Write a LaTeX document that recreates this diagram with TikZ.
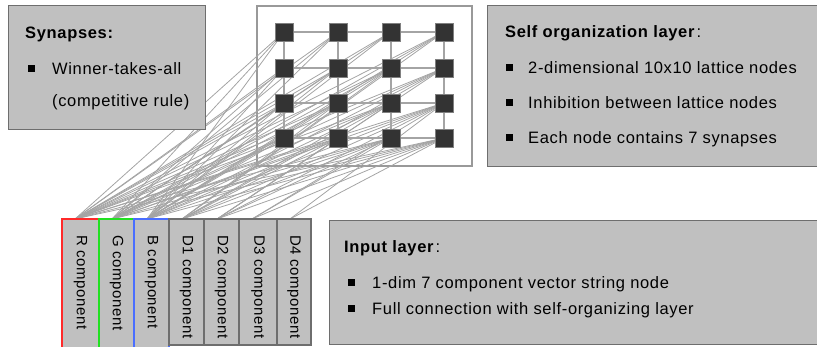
\documentclass[tikz,border=0pt]{standalone}
\usepackage{fontspec}
\setmainfont{Liberation Sans}[LetterSpace=4]
\definecolor{boxfill}{HTML}{C0C0C0}
\definecolor{boxline}{HTML}{6E6E6E}
\definecolor{wire}{HTML}{A4A4A4}
\definecolor{cell}{HTML}{333333}
\definecolor{rcol}{HTML}{FF2A2A}
\definecolor{gcol}{HTML}{22E022}
\definecolor{bcol}{HTML}{4A6EFF}
\tikzset{
  infobox/.style={draw=boxline, fill=boxfill, line width=1.3pt},
  latticebox/.style={draw=boxline!70, line width=1.3pt},
  cellnode/.style={draw=gray, fill=cell, line width=0.8pt, minimum size=18pt, inner sep=0pt},
  gridedge/.style={draw=wire, line width=2pt},
  synapse/.style={draw=wire, line width=0.8pt},
  compbox/.style={fill=boxfill, line width=1.3pt},
  complabel/.style={rotate=-90, anchor=west, inner sep=0pt, font=\fontsize{15}{18}\selectfont},
  txt/.style={anchor=base west, inner sep=0pt, font=\fontsize{16.5}{20}\selectfont},
  bulletmark/.style={fill=black, minimum size=7pt, inner sep=0pt},
}
\begin{document}
\begin{tikzpicture}[x=1pt, y=-1pt]
\useasboundingbox (0,0) rectangle (817,347);
\clip (0,0) rectangle (817,347);

% frame around the lattice
\draw[latticebox] (257,6) rectangle (472,166);

% lattice cell positions
\foreach \r/\y in {1/32, 2/68, 3/103, 4/138} {
  \foreach \c/\x in {1/284, 2/338, 3/391, 4/444} {
    \coordinate (p-\r-\c) at (\x,\y);
  }
}

% grid links between neighbouring cells
\foreach \r in {1,...,4} {
  \foreach \c [count=\n from 2] in {1,2,3} {
    \draw[gridedge] (p-\r-\c) -- (p-\r-\n);
    \draw[gridedge] (p-\c-\r) -- (p-\n-\r);
  }
}

% attachment points on top of the input components
\foreach \i/\ax in {1/75, 2/112, 3/147, 4/182, 5/217, 6/252, 7/290} {
  \coordinate (in-\i) at (\ax,219);
}

% colour components: wired to every lattice cell
\foreach \i in {1,2,3} {
  \foreach \r in {1,...,4} {
    \foreach \c in {1,...,4} {
      \draw[synapse] (in-\i) -- (p-\r-\c);
    }
  }
}

% D components: only the shallow wires towards the right of the lattice
\foreach \i/\ax in {4/182, 5/217, 6/252, 7/290} {
  \foreach \r/\y in {1/32, 2/68, 3/103, 4/138} {
    \foreach \c/\x in {1/284, 2/338, 3/391, 4/444} {
      \pgfmathtruncatemacro\keep{((\x-\ax) >= 1.3*(219-\y)) ? 1 : 0}
      \ifnum\keep=1
        \draw[synapse] (in-\i) -- (p-\r-\c);
      \fi
    }
  }
}

% the lattice cells themselves
\foreach \r in {1,...,4} {
  \foreach \c in {1,...,4} {
    \node[cellnode] (n-\r-\c) at (p-\r-\c) {};
  }
}

% Synapses box
\node[infobox, minimum width=197pt, minimum height=124pt, anchor=north west, inner sep=0pt] (syn) at (8,5) {};
\node[txt, font=\fontsize{16.5}{20}\selectfont\bfseries] (syn-t) at (25,39) {Synapses:};
\node[bulletmark] (syn-b1) at (31.5,69) {};
\node[txt] (syn-1) at (52,75) {Winner-takes-all};
\node[txt] (syn-2) at (52,107) {(competitive rule)};

% Self organization layer box
\node[infobox, minimum width=340pt, minimum height=161pt, anchor=north west, inner sep=0pt] (som) at (487,5) {};
\node[txt] (som-t) at (505,38) {\textbf{Self organization layer}\kern1.5pt:};
\node[bulletmark] (som-b1) at (509,68) {};
\node[bulletmark] (som-b2) at (509,103) {};
\node[bulletmark] (som-b3) at (509,138) {};
\node[txt] (som-1) at (528,74) {2-dimensional 10x10 lattice nodes};
\node[txt] (som-2) at (528,109) {Inhibition between lattice nodes};
\node[txt] (som-3) at (528,144) {Each node contains 7 synapses};

% Input layer box
\node[infobox, minimum width=500pt, minimum height=124pt, anchor=north west, inner sep=0pt] (inp) at (329,220) {};
\node[txt] (inp-t) at (344,253) {\textbf{Input layer}\kern1.5pt:};
\node[bulletmark] (inp-b1) at (351,283) {};
\node[bulletmark] (inp-b2) at (351,309) {};
\node[txt] (inp-1) at (372,289) {1-dim 7 component vector string node};
\node[txt] (inp-2) at (372,315) {Full connection with self-organizing layer};

% input vector components
\draw[compbox, draw=rcol] (62,352) -- (62,219) -- (99,219) -- (99,352);
\draw[compbox, draw=gcol] (99,352) -- (99,219) -- (134,219) -- (134,352);
\draw[compbox, draw=bcol] (134,352) -- (134,219) -- (169,219) -- (169,352);
\foreach \l/\rr in {169/204, 204/239, 239/277, 277/311} {
  \draw[compbox, draw=boxline] (\l,219) rectangle (\rr,345);
}
\foreach \i/\cx/\name in {1/80.5/R, 2/116.5/G, 3/151.5/B, 4/186.5/D1, 5/221.5/D2, 6/258/D3, 7/294/D4} {
  \node[complabel] (lab-\i) at (\cx,235) {\name\ component};
}
\end{tikzpicture}
\end{document}
